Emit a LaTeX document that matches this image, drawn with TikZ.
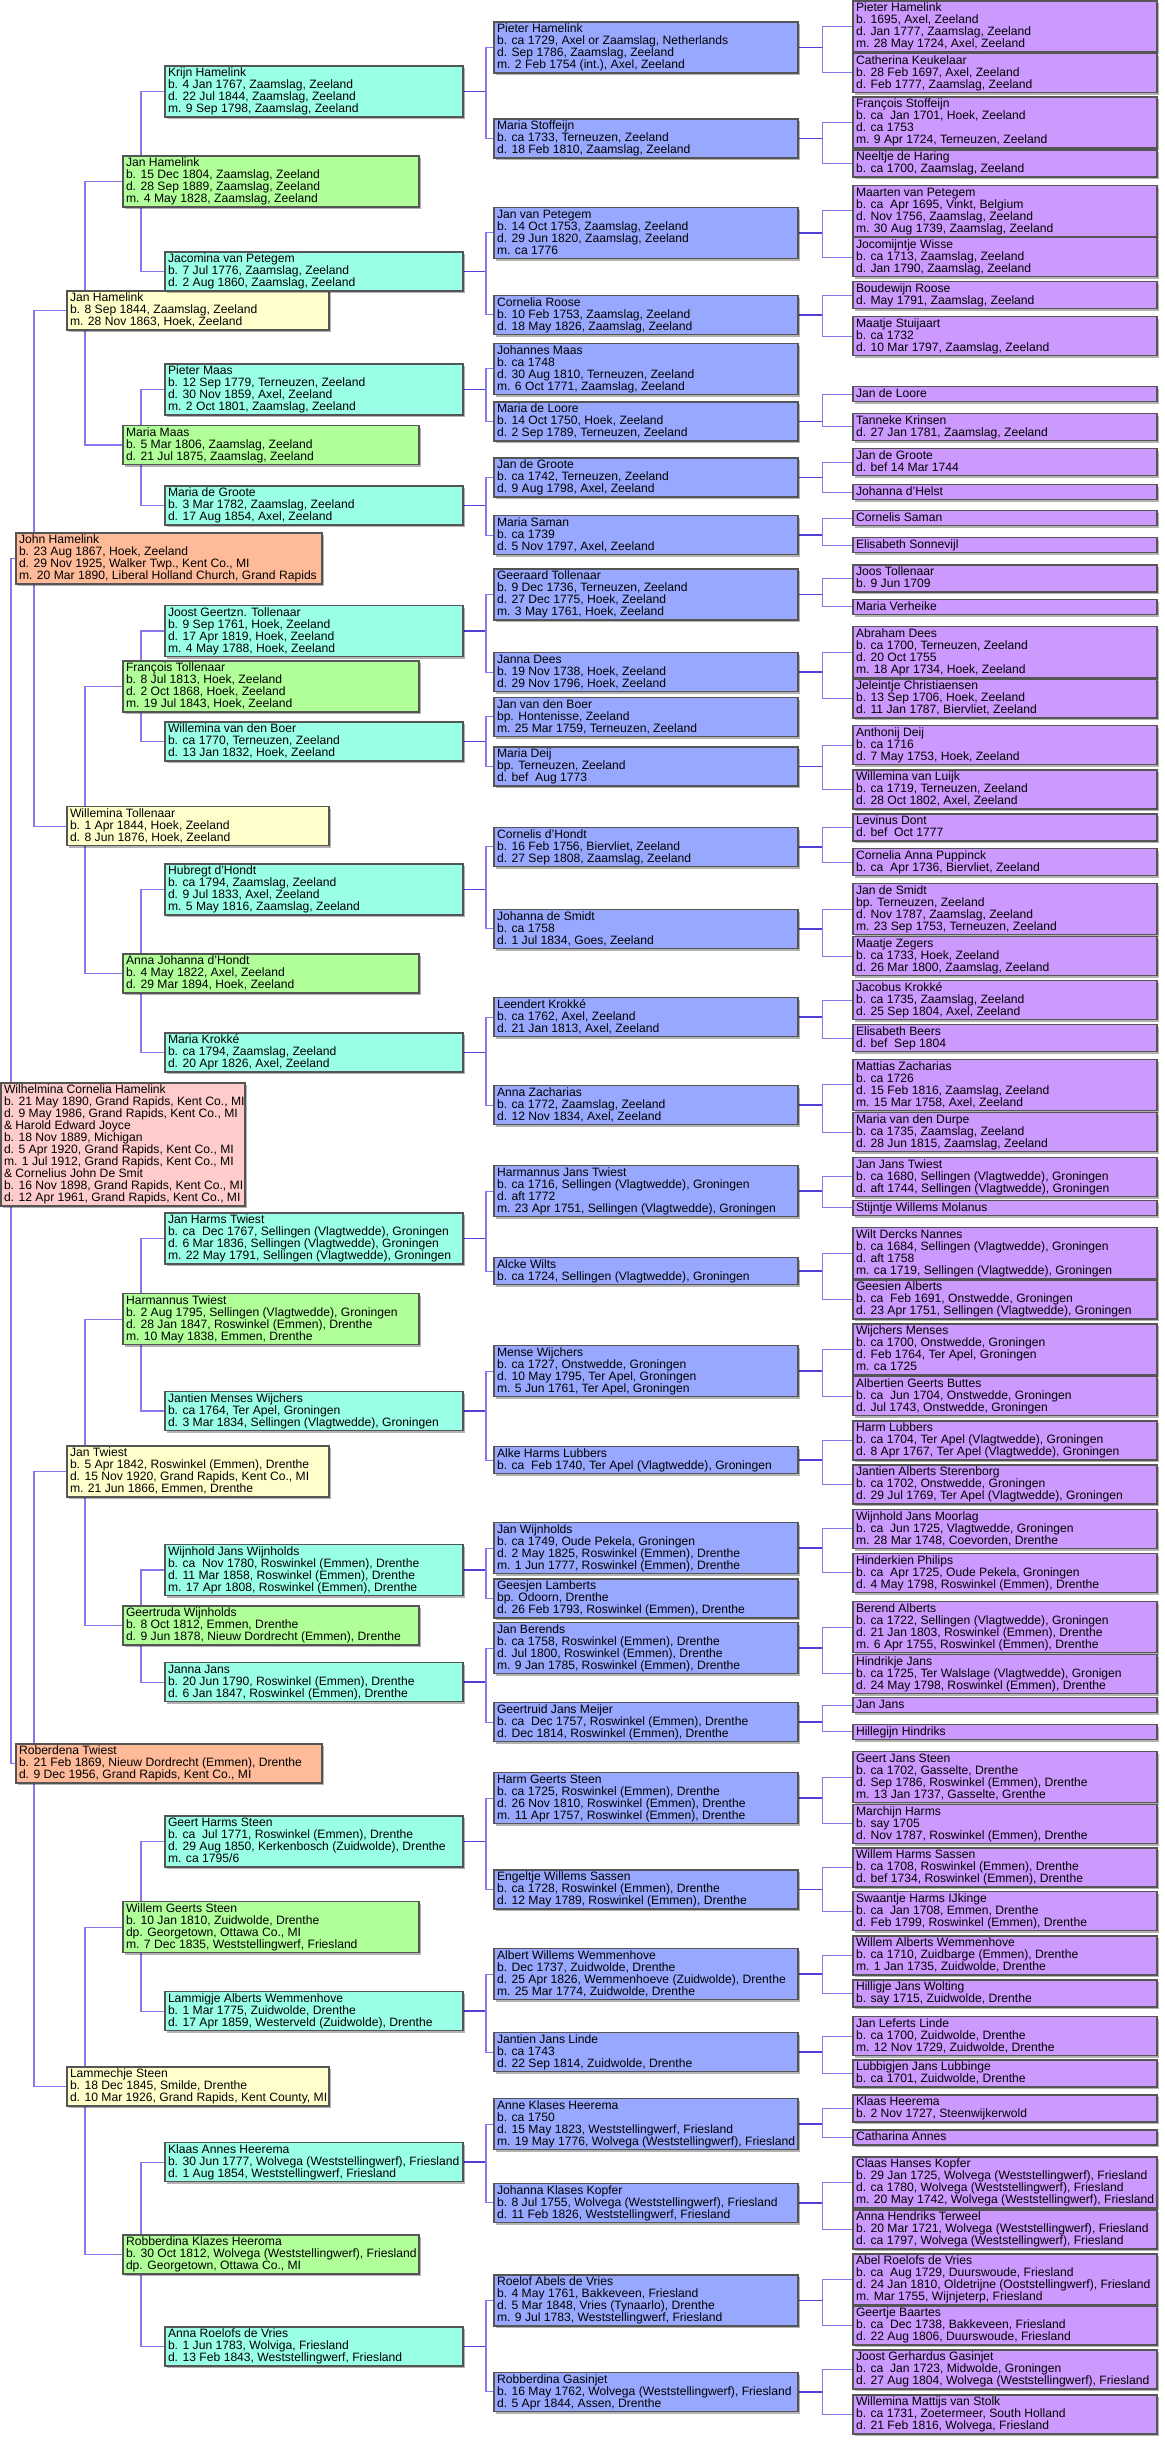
\documentclass[tikz,border=0pt]{standalone}
\usepackage{fontspec}
\setmainfont{Liberation Sans}
\usetikzlibrary{shadows,backgrounds}
\definecolor{pinkc}{HTML}{FFCCCC}
\definecolor{orangec}{HTML}{FFBB99}
\definecolor{yellowc}{HTML}{FFFFCC}
\definecolor{greenc}{HTML}{B0FF99}
\definecolor{cyanc}{HTML}{99FFE6}
\definecolor{bluec}{HTML}{99A8FF}
\definecolor{purplec}{HTML}{CC99FF}
\definecolor{litec}{HTML}{8877EE}
\definecolor{darkc}{HTML}{5040D8}
\definecolor{borderc}{HTML}{555555}
\newlength\pw
\newcommand\pers[1]{\hbox to\pw{\vbox{\let\\\cr\lineskiplimit=-20pt\lineskip=0pt\baselineskip=9pt\halign{\rule[-2.1pt]{0pt}{9pt}##\hfil\cr#1\crcr}}\hss}}
\begin{document}
\begin{tikzpicture}[x=0.75pt,y=-0.75pt,
  pbox/.style={draw=borderc, line width=0.8pt, rectangle, anchor=north west,
    inner xsep=2.25pt, inner ysep=1.125pt, outer sep=0pt,
    font=\fontsize{9.1}{9}\selectfont,
    drop shadow={shadow xshift=1.8pt, shadow yshift=-1.8pt, fill=black, opacity=0.3}},
  c0/.style={pbox, fill=pinkc, execute at begin node={\setlength\pw{178.5pt}}},
  c1/.style={pbox, fill=orangec, execute at begin node={\setlength\pw{225pt}}},
  c2/.style={pbox, fill=yellowc, execute at begin node={\setlength\pw{192pt}}},
  c3/.style={pbox, fill=greenc, execute at begin node={\setlength\pw{217.5pt}}},
  c4/.style={pbox, fill=cyanc, execute at begin node={\setlength\pw{219pt}}},
  c5/.style={pbox, fill=bluec, execute at begin node={\setlength\pw{223.5pt}}},
  c6/.style={pbox, fill=purplec, execute at begin node={\setlength\pw{223.5pt}}},
  lite/.style={draw=litec, line width=1pt},
  dark/.style={draw=darkc, line width=1.3pt}]
\useasboundingbox (0,0) rectangle (1164,2441);

% ---------- generation 0
\node[c0] (W) at (1,1083) {\pers{Wilhelmina Cornelia Hamelink\\b. 21 May 1890, Grand Rapids, Kent Co., MI\\d. 9 May 1986, Grand Rapids, Kent Co., MI\\\& Harold Edward Joyce\\b. 18 Nov 1889, Michigan\\d. 5 Apr 1920, Grand Rapids, Kent Co., MI\\m. 1 Jul 1912, Grand Rapids, Kent Co., MI\\\& Cornelius John De Smit\\b. 16 Nov 1898, Grand Rapids, Kent Co., MI\\d. 12 Apr 1961, Grand Rapids, Kent Co., MI}};

% ---------- generation 1
\node[c1] (A1) at (16,533) {\pers{John Hamelink\\b. 23 Aug 1867, Hoek, Zeeland\\d. 29 Nov 1925, Walker Twp., Kent Co., MI\\m. 20 Mar 1890, Liberal Holland Church, Grand Rapids}};
\node[c1] (A2) at (16,1744) {\pers{Roberdena Twiest\\b. 21 Feb 1869, Nieuw Dordrecht (Emmen), Drenthe\\d. 9 Dec 1956, Grand Rapids, Kent Co., MI}};

% ---------- generation 2
\node[c2] (B1) at (67,291) {\pers{Jan Hamelink\\b. 8 Sep 1844, Zaamslag, Zeeland\\m. 28 Nov 1863, Hoek, Zeeland}};
\node[c2] (B2) at (67,806.7) {\pers{Willemina Tollenaar\\b. 1 Apr 1844, Hoek, Zeeland\\d. 8 Jun 1876, Hoek, Zeeland}};
\node[c2] (B3) at (67,1446) {\pers{Jan Twiest\\b. 5 Apr 1842, Roswinkel (Emmen), Drenthe\\d. 15 Nov 1920, Grand Rapids, Kent Co., MI\\m. 21 Jun 1866, Emmen, Drenthe}};
\node[c2] (B4) at (67,2067) {\pers{Lammechje Steen\\b. 18 Dec 1845, Smilde, Drenthe\\d. 10 Mar 1926, Grand Rapids, Kent County, MI}};

% ---------- generation 3
\node[c3] (C1) at (123,156) {\pers{Jan Hamelink\\b. 15 Dec 1804, Zaamslag, Zeeland\\d. 28 Sep 1889, Zaamslag, Zeeland\\m. 4 May 1828, Zaamslag, Zeeland}};
\node[c3] (C2) at (123,425.5) {\pers{Maria Maas\\b. 5 Mar 1806, Zaamslag, Zeeland\\d. 21 Jul 1875, Zaamslag, Zeeland}};
\node[c3] (C3) at (123,661) {\pers{François Tollenaar\\b. 8 Jul 1813, Hoek, Zeeland\\d. 2 Oct 1868, Hoek, Zeeland\\m. 19 Jul 1843, Hoek, Zeeland}};
\node[c3] (C4) at (123,954) {\pers{Anna Johanna d'Hondt\\b. 4 May 1822, Axel, Zeeland\\d. 29 Mar 1894, Hoek, Zeeland}};
\node[c3] (C5) at (123,1293.7) {\pers{Harmannus Twiest\\b. 2 Aug 1795, Sellingen (Vlagtwedde), Groningen\\d. 28 Jan 1847, Roswinkel (Emmen), Drenthe\\m. 10 May 1838, Emmen, Drenthe}};
\node[c3] (C6) at (123,1606) {\pers{Geertruda Wijnholds\\b. 8 Oct 1812, Emmen, Drenthe\\d. 9 Jun 1878, Nieuw Dordrecht (Emmen), Drenthe}};
\node[c3] (C7) at (123,1901.7) {\pers{Willem Geerts Steen\\b. 10 Jan 1810, Zuidwolde, Drenthe\\dp. Georgetown, Ottawa Co., MI\\m. 7 Dec 1835, Weststellingwerf, Friesland}};
\node[c3] (C8) at (123,2235) {\pers{Robberdina Klazes Heeroma\\b. 30 Oct 1812, Wolvega (Weststellingwerf), Friesland\\dp. Georgetown, Ottawa Co., MI}};

% ---------- generation 4
\node[c4] (D1) at (165,66) {\pers{Krijn Hamelink\\b. 4 Jan 1767, Zaamslag, Zeeland\\d. 22 Jul 1844, Zaamslag, Zeeland\\m. 9 Sep 1798, Zaamslag, Zeeland}};
\node[c4] (D2) at (165,252) {\pers{Jacomina van Petegem\\b. 7 Jul 1776, Zaamslag, Zeeland\\d. 2 Aug 1860, Zaamslag, Zeeland}};
\node[c4] (D3) at (165,364) {\pers{Pieter Maas\\b. 12 Sep 1779, Terneuzen, Zeeland\\d. 30 Nov 1859, Axel, Zeeland\\m. 2 Oct 1801, Zaamslag, Zeeland}};
\node[c4] (D4) at (165,486) {\pers{Maria de Groote\\b. 3 Mar 1782, Zaamslag, Zeeland\\d. 17 Aug 1854, Axel, Zeeland}};
\node[c4] (D5) at (165,605.5) {\pers{Joost Geertzn. Tollenaar\\b. 9 Sep 1761, Hoek, Zeeland\\d. 17 Apr 1819, Hoek, Zeeland\\m. 4 May 1788, Hoek, Zeeland}};
\node[c4] (D6) at (165,722) {\pers{Willemina van den Boer\\b. ca 1770, Terneuzen, Zeeland\\d. 13 Jan 1832, Hoek, Zeeland}};
\node[c4] (D7) at (165,864) {\pers{Hubregt d'Hondt\\b. ca 1794, Zaamslag, Zeeland\\d. 9 Jul 1833, Axel, Zeeland\\m. 5 May 1816, Zaamslag, Zeeland}};
\node[c4] (D8) at (165,1033) {\pers{Maria Krokké\\b. ca 1794, Zaamslag, Zeeland\\d. 20 Apr 1826, Axel, Zeeland}};
\node[c4] (D9) at (165,1213) {\pers{Jan Harms Twiest\\b. ca~ Dec 1767, Sellingen (Vlagtwedde), Groningen\\d. 6 Mar 1836, Sellingen (Vlagtwedde), Groningen\\m. 22 May 1791, Sellingen (Vlagtwedde), Groningen}};
\node[c4] (D10) at (165,1391.6) {\pers{Jantien Menses Wijchers\\b. ca 1764, Ter Apel, Groningen\\d. 3 Mar 1834, Sellingen (Vlagtwedde), Groningen}};
\node[c4] (D11) at (165,1544.4) {\pers{Wijnhold Jans Wijnholds\\b. ca~ Nov 1780, Roswinkel (Emmen), Drenthe\\d. 11 Mar 1858, Roswinkel (Emmen), Drenthe\\m. 17 Apr 1808, Roswinkel (Emmen), Drenthe}};
\node[c4] (D12) at (165,1662.8) {\pers{Janna Jans\\b. 20 Jun 1790, Roswinkel (Emmen), Drenthe\\d. 6 Jan 1847, Roswinkel (Emmen), Drenthe}};
\node[c4] (D13) at (165,1816) {\pers{Geert Harms Steen\\b. ca~ Jul 1771, Roswinkel (Emmen), Drenthe\\d. 29 Aug 1850, Kerkenbosch (Zuidwolde), Drenthe\\m. ca 1795/6}};
\node[c4] (D14) at (165,1991.8) {\pers{Lammigje Alberts Wemmenhove\\b. 1 Mar 1775, Zuidwolde, Drenthe\\d. 17 Apr 1859, Westerveld (Zuidwolde), Drenthe}};
\node[c4] (D15) at (165,2142.7) {\pers{Klaas Annes Heerema\\b. 30 Jun 1777, Wolvega (Weststellingwerf), Friesland\\d. 1 Aug 1854, Weststellingwerf, Friesland}};
\node[c4] (D16) at (165,2327) {\pers{Anna Roelofs de Vries\\b. 1 Jun 1783, Wolviga, Friesland\\d. 13 Feb 1843, Weststellingwerf, Friesland}};

% ---------- generation 5
\node[c5] (E1) at (494,22) {\pers{Pieter Hamelink\\b. ca 1729, Axel or Zaamslag, Netherlands\\d. Sep 1786, Zaamslag, Zeeland\\m. 2 Feb 1754 (int.), Axel, Zeeland}};
\node[c5] (E2) at (494,119) {\pers{Maria Stoffeijn\\b. ca 1733, Terneuzen, Zeeland\\d. 18 Feb 1810, Zaamslag, Zeeland}};
\node[c5] (E3) at (494,207.3) {\pers{Jan van Petegem\\b. 14 Oct 1753, Zaamslag, Zeeland\\d. 29 Jun 1820, Zaamslag, Zeeland\\m. ca 1776}};
\node[c5] (E4) at (494,295.3) {\pers{Cornelia Roose\\b. 10 Feb 1753, Zaamslag, Zeeland\\d. 18 May 1826, Zaamslag, Zeeland}};
\node[c5] (E5) at (494,343.3) {\pers{Johannes Maas\\b. ca 1748\\d. 30 Aug 1810, Terneuzen, Zeeland\\m. 6 Oct 1771, Zaamslag, Zeeland}};
\node[c5] (E6) at (494,402) {\pers{Maria de Loore\\b. 14 Oct 1750, Hoek, Zeeland\\d. 2 Sep 1789, Terneuzen, Zeeland}};
\node[c5] (E7) at (494,458) {\pers{Jan de Groote\\b. ca 1742, Terneuzen, Zeeland\\d. 9 Aug 1798, Axel, Zeeland}};
\node[c5] (E8) at (494,515.7) {\pers{Maria Saman\\b. ca 1739\\d. 5 Nov 1797, Axel, Zeeland}};
\node[c5] (E9) at (494,569) {\pers{Geeraard Tollenaar\\b. 9 Dec 1736, Terneuzen, Zeeland\\d. 27 Dec 1775, Hoek, Zeeland\\m. 3 May 1761, Hoek, Zeeland}};
\node[c5] (E10) at (494,652.7) {\pers{Janna Dees\\b. 19 Nov 1738, Hoek, Zeeland\\d. 29 Nov 1796, Hoek, Zeeland}};
\node[c5] (E11) at (494,697.3) {\pers{Jan van den Boer\\bp. Hontenisse, Zeeland\\m. 25 Mar 1759, Terneuzen, Zeeland}};
\node[c5] (E12) at (494,747) {\pers{Maria Deij\\bp. Terneuzen, Zeeland\\d. bef~ Aug 1773}};
\node[c5] (E13) at (494,827.3) {\pers{Cornelis d'Hondt\\b. 16 Feb 1756, Biervliet, Zeeland\\d. 27 Sep 1808, Zaamslag, Zeeland}};
\node[c5] (E14) at (494,909.3) {\pers{Johanna de Smidt\\b. ca 1758\\d. 1 Jul 1834, Goes, Zeeland}};
\node[c5] (E15) at (494,997.7) {\pers{Leendert Krokké\\b. ca 1762, Axel, Zeeland\\d. 21 Jan 1813, Axel, Zeeland}};
\node[c5] (E16) at (494,1085.7) {\pers{Anna Zacharias\\b. ca 1772, Zaamslag, Zeeland\\d. 12 Nov 1834, Axel, Zeeland}};
\node[c5] (E17) at (494,1165.7) {\pers{Harmannus Jans Twiest\\b. ca 1716, Sellingen (Vlagtwedde), Groningen\\d. aft 1772\\m. 23 Apr 1751, Sellingen (Vlagtwedde), Groningen}};
\node[c5] (E18) at (494,1257.7) {\pers{Alcke Wilts\\b. ca 1724, Sellingen (Vlagtwedde), Groningen}};
\node[c5] (E19) at (494,1345.7) {\pers{Mense Wijchers\\b. ca 1727, Onstwedde, Groningen\\d. 10 May 1795, Ter Apel, Groningen\\m. 5 Jun 1761, Ter Apel, Groningen}};
\node[c5] (E20) at (494,1446.7) {\pers{Alke Harms Lubbers\\b. ca~ Feb 1740, Ter Apel (Vlagtwedde), Groningen}};
\node[c5] (E21) at (494,1522.7) {\pers{Jan Wijnholds\\b. ca 1749, Oude Pekela, Groningen\\d. 2 May 1825, Roswinkel (Emmen), Drenthe\\m. 1 Jun 1777, Roswinkel (Emmen), Drenthe}};
\node[c5] (E22) at (494,1579) {\pers{Geesjen Lamberts\\bp. Odoorn, Drenthe\\d. 26 Feb 1793, Roswinkel (Emmen), Drenthe}};
\node[c5] (E23) at (494,1622.7) {\pers{Jan Berends\\b. ca 1758, Roswinkel (Emmen), Drenthe\\d. Jul 1800, Roswinkel (Emmen), Drenthe\\m. 9 Jan 1785, Roswinkel (Emmen), Drenthe}};
\node[c5] (E24) at (494,1702.7) {\pers{Geertruid Jans Meijer\\b. ca~ Dec 1757, Roswinkel (Emmen), Drenthe\\d. Dec 1814, Roswinkel (Emmen), Drenthe}};
\node[c5] (E25) at (494,1772.7) {\pers{Harm Geerts Steen\\b. ca 1725, Roswinkel (Emmen), Drenthe\\d. 26 Nov 1810, Roswinkel (Emmen), Drenthe\\m. 11 Apr 1757, Roswinkel (Emmen), Drenthe}};
\node[c5] (E26) at (494,1870) {\pers{Engeltje Willems Sassen\\b. ca 1728, Roswinkel (Emmen), Drenthe\\d. 12 May 1789, Roswinkel (Emmen), Drenthe}};
\node[c5] (E27) at (494,1948.7) {\pers{Albert Willems Wemmenhove\\b. Dec 1737, Zuidwolde, Drenthe\\d. 25 Apr 1826, Wemmenhoeve (Zuidwolde), Drenthe\\m. 25 Mar 1774, Zuidwolde, Drenthe}};
\node[c5] (E28) at (494,2032.7) {\pers{Jantien Jans Linde\\b. ca 1743\\d. 22 Sep 1814, Zuidwolde, Drenthe}};
\node[c5] (E29) at (494,2098.7) {\pers{Anne Klases Heerema\\b. ca 1750\\d. 15 May 1823, Weststellingwerf, Friesland\\m. 19 May 1776, Wolvega (Weststellingwerf), Friesland}};
\node[c5] (E30) at (494,2183.3) {\pers{Johanna Klases Kopfer\\b. 8 Jul 1755, Wolvega (Weststellingwerf), Friesland\\d. 11 Feb 1826, Weststellingwerf, Friesland}};
\node[c5] (E31) at (494,2275) {\pers{Roelof Abels de Vries\\b. 4 May 1761, Bakkeveen, Friesland\\d. 5 Mar 1848, Vries (Tynaarlo), Drenthe\\m. 9 Jul 1783, Weststellingwerf, Friesland}};
\node[c5] (E32) at (494,2372.3) {\pers{Robberdina Gasinjet\\b. 16 May 1762, Wolvega (Weststellingwerf), Friesland\\d. 5 Apr 1844, Assen, Drenthe}};

% ---------- generation 6
\node[c6] (Fa1) at (853,1) {\pers{Pieter Hamelink\\b. 1695, Axel, Zeeland\\d. Jan 1777, Zaamslag, Zeeland\\m. 28 May 1724, Axel, Zeeland}};
\node[c6] (Fb1) at (853,53.3) {\pers{Catherina Keukelaar\\b. 28 Feb 1697, Axel, Zeeland\\d. Feb 1777, Zaamslag, Zeeland}};
\node[c6] (Fa2) at (853,97) {\pers{François Stoffeijn\\b. ca~ Jan 1701, Hoek, Zeeland\\d. ca 1753\\m. 9 Apr 1724, Terneuzen, Zeeland}};
\node[c6] (Fb2) at (853,150) {\pers{Neeltje de Haring\\b. ca 1700, Zaamslag, Zeeland}};
\node[c6] (Fa3) at (853,185.3) {\pers{Maarten van Petegem\\b. ca~ Apr 1695, Vinkt, Belgium\\d. Nov 1756, Zaamslag, Zeeland\\m. 30 Aug 1739, Zaamslag, Zeeland}};
\node[c6] (Fb3) at (853,237.7) {\pers{Jocomijntje Wisse\\b. ca 1713, Zaamslag, Zeeland\\d. Jan 1790, Zaamslag, Zeeland}};
\node[c6] (Fa4) at (853,281.7) {\pers{Boudewijn Roose\\d. May 1791, Zaamslag, Zeeland}};
\node[c6] (Fb4) at (853,316.7) {\pers{Maatje Stuijaart\\b. ca 1732\\d. 10 Mar 1797, Zaamslag, Zeeland}};
\node[c6] (Fa6) at (853,386.7) {\pers{Jan de Loore}};
\node[c6] (Fb6) at (853,413.3) {\pers{Tanneke Krinsen\\d. 27 Jan 1781, Zaamslag, Zeeland}};
\node[c6] (Fa7) at (853,448.7) {\pers{Jan de Groote\\d. bef 14 Mar 1744}};
\node[c6] (Fb7) at (853,484.7) {\pers{Johanna d'Helst}};
\node[c6] (Fa8) at (853,510.7) {\pers{Cornelis Saman}};
\node[c6] (Fb8) at (853,537.7) {\pers{Elisabeth Sonnevijl}};
\node[c6] (Fa9) at (853,565) {\pers{Joos Tollenaar\\b. 9 Jun 1709}};
\node[c6] (Fb9) at (853,599.3) {\pers{Maria Verheike}};
\node[c6] (Fa10) at (853,626.7) {\pers{Abraham Dees\\b. ca 1700, Terneuzen, Zeeland\\d. 20 Oct 1755\\m. 18 Apr 1734, Hoek, Zeeland}};
\node[c6] (Fb10) at (853,679) {\pers{Jeleintje Christiaensen\\b. 13 Sep 1706, Hoek, Zeeland\\d. 11 Jan 1787, Biervliet, Zeeland}};
\node[c6] (Fa12) at (853,725.7) {\pers{Anthonij Deij\\b. ca 1716\\d. 7 May 1753, Hoek, Zeeland}};
\node[c6] (Fb12) at (853,770) {\pers{Willemina van Luijk\\b. ca 1719, Terneuzen, Zeeland\\d. 28 Oct 1802, Axel, Zeeland}};
\node[c6] (Fa13) at (853,814) {\pers{Levinus Dont\\d. bef~ Oct 1777}};
\node[c6] (Fb13) at (853,848.7) {\pers{Cornelia Anna Puppinck\\b. ca~ Apr 1736, Biervliet, Zeeland}};
\node[c6] (Fa14) at (853,883.7) {\pers{Jan de Smidt\\bp. Terneuzen, Zeeland\\d. Nov 1787, Zaamslag, Zeeland\\m. 23 Sep 1753, Terneuzen, Zeeland}};
\node[c6] (Fb14) at (853,936.7) {\pers{Maatje Zegers\\b. ca 1733, Hoek, Zeeland\\d. 26 Mar 1800, Zaamslag, Zeeland}};
\node[c6] (Fa15) at (853,980.7) {\pers{Jacobus Krokké\\b. ca 1735, Zaamslag, Zeeland\\d. 25 Sep 1804, Axel, Zeeland}};
\node[c6] (Fb15) at (853,1024.7) {\pers{Elisabeth Beers\\d. bef~ Sep 1804}};
\node[c6] (Fa16) at (853,1059.3) {\pers{Mattias Zacharias\\b. ca 1726\\d. 15 Feb 1816, Zaamslag, Zeeland\\m. 15 Mar 1758, Axel, Zeeland}};
\node[c6] (Fb16) at (853,1112.7) {\pers{Maria van den Durpe\\b. ca 1735, Zaamslag, Zeeland\\d. 28 Jun 1815, Zaamslag, Zeeland}};
\node[c6] (Fa17) at (853,1157.3) {\pers{Jan Jans Twiest\\b. ca 1680, Sellingen (Vlagtwedde), Groningen\\d. aft 1744, Sellingen (Vlagtwedde), Groningen}};
\node[c6] (Fb17) at (853,1200.3) {\pers{Stijntje Willems Molanus}};
\node[c6] (Fa18) at (853,1227.7) {\pers{Wilt Dercks Nannes\\b. ca 1684, Sellingen (Vlagtwedde), Groningen\\d. aft 1758\\m. ca 1719, Sellingen (Vlagtwedde), Groningen}};
\node[c6] (Fb18) at (853,1280) {\pers{Geesien Alberts\\b. ca~ Feb 1691, Onstwedde, Groningen\\d. 23 Apr 1751, Sellingen (Vlagtwedde), Groningen}};
\node[c6] (Fa19) at (853,1324) {\pers{Wijchers Menses\\b. ca 1700, Onstwedde, Groningen\\d. Feb 1764, Ter Apel, Groningen\\m. ca 1725}};
\node[c6] (Fb19) at (853,1376.7) {\pers{Albertien Geerts Buttes\\b. ca~ Jun 1704, Onstwedde, Groningen\\d. Jul 1743, Onstwedde, Groningen}};
\node[c6] (Fa20) at (853,1421) {\pers{Harm Lubbers\\b. ca 1704, Ter Apel (Vlagtwedde), Groningen\\d. 8 Apr 1767, Ter Apel (Vlagtwedde), Groningen}};
\node[c6] (Fb20) at (853,1465) {\pers{Jantien Alberts Sterenborg\\b. ca 1702, Onstwedde, Groningen\\d. 29 Jul 1769, Ter Apel (Vlagtwedde), Groningen}};
\node[c6] (Fa21) at (853,1509.3) {\pers{Wijnhold Jans Moorlag\\b. ca~ Jun 1725, Vlagtwedde, Groningen\\m. 28 Mar 1748, Coevorden, Drenthe}};
\node[c6] (Fb21) at (853,1553.3) {\pers{Hinderkien Philips\\b. ca~ Apr 1725, Oude Pekela, Groningen\\d. 4 May 1798, Roswinkel (Emmen), Drenthe}};
\node[c6] (Fa23) at (853,1601.7) {\pers{Berend Alberts\\b. ca 1722, Sellingen (Vlagtwedde), Groningen\\d. 21 Jan 1803, Roswinkel (Emmen), Drenthe\\m. 6 Apr 1755, Roswinkel (Emmen), Drenthe}};
\node[c6] (Fb23) at (853,1654.3) {\pers{Hindrikje Jans\\b. ca 1725, Ter Walslage (Vlagtwedde), Gronigen\\d. 24 May 1798, Roswinkel (Emmen), Drenthe}};
\node[c6] (Fa24) at (853,1697.7) {\pers{Jan Jans}};
\node[c6] (Fb24) at (853,1724.3) {\pers{Hillegijn Hindriks}};
\node[c6] (Fa25) at (853,1751.7) {\pers{Geert Jans Steen\\b. ca 1702, Gasselte, Drenthe\\d. Sep 1786, Roswinkel (Emmen), Drenthe\\m. 13 Jan 1737, Gasselte, Grenthe}};
\node[c6] (Fb25) at (853,1804.3) {\pers{Marchijn Harms\\b. say 1705\\d. Nov 1787, Roswinkel (Emmen), Drenthe}};
\node[c6] (Fa26) at (853,1848) {\pers{Willem Harms Sassen\\b. ca 1708, Roswinkel (Emmen), Drenthe\\d. bef 1734, Roswinkel (Emmen), Drenthe}};
\node[c6] (Fb26) at (853,1891.7) {\pers{Swaantje Harms IJkinge\\b. ca~ Jan 1708, Emmen, Drenthe\\d. Feb 1799, Roswinkel (Emmen), Drenthe}};
\node[c6] (Fa27) at (853,1936) {\pers{Willem Alberts Wemmenhove\\b. ca 1710, Zuidbarge (Emmen), Drenthe\\m. 1 Jan 1735, Zuidwolde, Drenthe}};
\node[c6] (Fb27) at (853,1980) {\pers{Hilligje Jans Wolting\\b. say 1715, Zuidwolde, Drenthe}};
\node[c6] (Fa28) at (853,2016.7) {\pers{Jan Leferts Linde\\b. ca 1700, Zuidwolde, Drenthe\\m. 12 Nov 1729, Zuidwolde, Drenthe}};
\node[c6] (Fb28) at (853,2060) {\pers{Lubbigjen Jans Lubbinge\\b. ca 1701, Zuidwolde, Drenthe}};
\node[c6] (Fa29) at (853,2095) {\pers{Klaas Heerema\\b. 2 Nov 1727, Steenwijkerwold}};
\node[c6] (Fb29) at (853,2130) {\pers{Catharina Annes}};
\node[c6] (Fa30) at (853,2157) {\pers{Claas Hanses Kopfer\\b. 29 Jan 1725, Wolvega (Weststellingwerf), Friesland\\d. ca 1780, Wolvega (Weststellingwerf), Friesland\\m. 20 May 1742, Wolvega (Weststellingwerf), Friesland}};
\node[c6] (Fb30) at (853,2210) {\pers{Anna Hendriks Terweel\\b. 20 Mar 1721, Wolvega (Weststellingwerf), Friesland\\d. ca 1797, Wolvega (Weststellingwerf), Friesland}};
\node[c6] (Fa31) at (853,2254) {\pers{Abel Roelofs de Vries\\b. ca~ Aug 1729, Duurswoude, Friesland\\d. 24 Jan 1810, Oldetrijne (Ooststellingwerf), Friesland\\m. Mar 1755, Wijnjeterp, Friesland}};
\node[c6] (Fb31) at (853,2306) {\pers{Geertje Baartes\\b. ca~ Dec 1738, Bakkeveen, Friesland\\d. 22 Aug 1806, Duurswoude, Friesland}};
\node[c6] (Fa32) at (853,2350) {\pers{Joost Gerhardus Gasinjet\\b. ca~ Jan 1723, Midwolde, Groningen\\d. 27 Aug 1804, Wolvega (Weststellingwerf), Friesland}};
\node[c6] (Fb32) at (853,2395) {\pers{Willemina Mattijs van Stolk\\b. ca 1731, Zoetermeer, South Holland\\d. 21 Feb 1816, Wolvega, Friesland}};

% ---------- connectors
\begin{pgfonlayer}{background}
\fill[white] (0,0) rectangle (1164,2441);
\draw[lite] (A1.west) -- ++(-5,0) |- (A2.west);
\draw[lite] (B1.west) -- ++(-33,0) |- (B2.west);
\draw[lite] (B3.west) -- ++(-33,0) |- (B4.west);
\foreach \i in {1,3,5,7} {
  \pgfmathtruncatemacro\j{\i+1}
  \draw[lite] (C\i.west) -- ++(-38,0) |- (C\j.west);}
\foreach \i in {1,3,...,15} {
  \pgfmathtruncatemacro\j{\i+1}
  \draw[lite] (D\i.west) -- ++(-24,0) |- (D\j.west);}
\foreach \i in {1,...,16} {
  \pgfmathtruncatemacro\j{2*\i-1}
  \pgfmathtruncatemacro\k{2*\i}
  \draw[dark] (D\i.east) -- ++(23.5,0);
  \draw[lite] (E\j.west) -- ++(-7.9,0) |- (E\k.west);}
\foreach \i in {1,2,3,4,6,7,8,9,10,12,13,14,15,16,17,18,19,20,21,23,24,25,26,27,28,29,30,31,32} {
  \draw[dark] (E\i.east) -- ++(24,0);
  \draw[lite] (Fa\i.west) -- ++(-30.5,0) |- (Fb\i.west);}
\end{pgfonlayer}
\end{tikzpicture}
\end{document}
